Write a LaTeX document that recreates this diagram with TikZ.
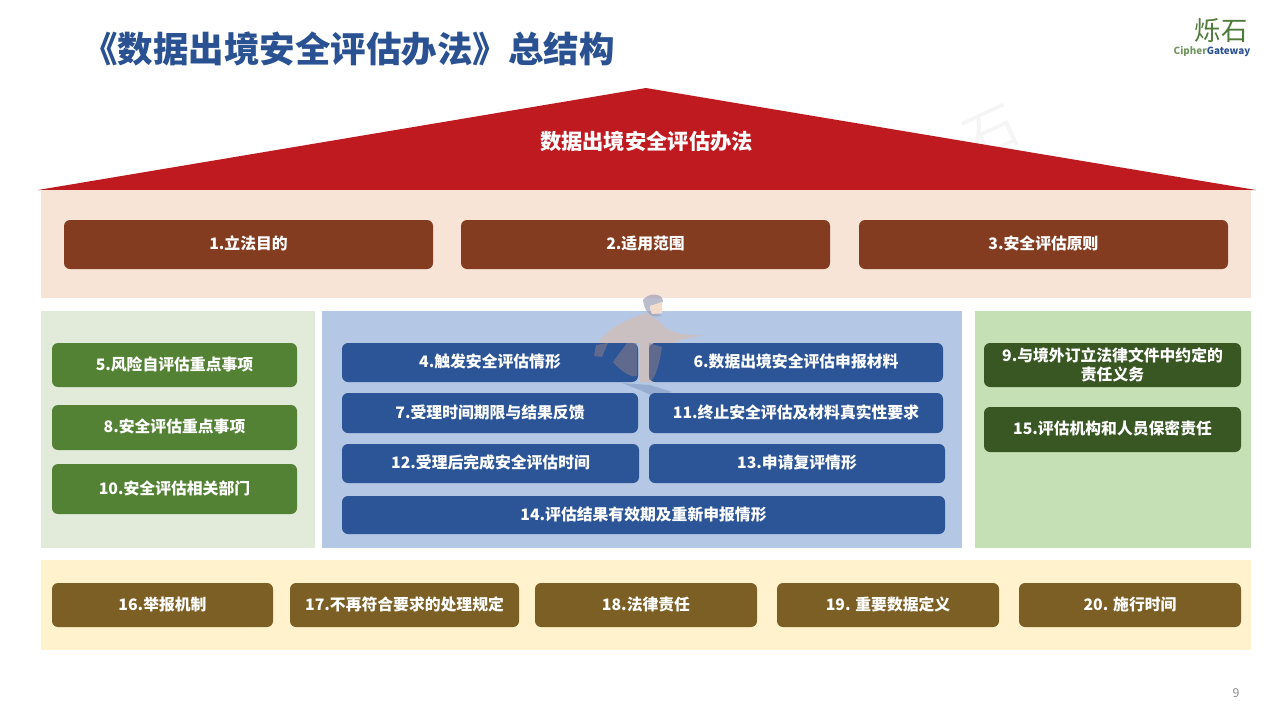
\documentclass[tikz,border=0pt]{standalone}
\usepackage{fontspec}
\setmainfont{Noto Sans CJK SC}
\definecolor{roofred}{HTML}{BE1A20}
\definecolor{titleblue}{HTML}{2A5292}
\definecolor{topband}{HTML}{F8E4D6}
\definecolor{topbox}{HTML}{843C21}
\definecolor{leftband}{HTML}{E2EBDA}
\definecolor{leftbox}{HTML}{548235}
\definecolor{midband}{HTML}{B4C7E4}
\definecolor{midbox}{HTML}{2C5597}
\definecolor{rightband}{HTML}{C5E0B4}
\definecolor{rightbox}{HTML}{385723}
\definecolor{lowband}{HTML}{FFF2CC}
\definecolor{lowbox}{HTML}{7B5F25}
\definecolor{logogreen}{HTML}{4E7A3A}
\definecolor{markpeach}{HTML}{E8B898}
\definecolor{markgrey}{HTML}{8A7C88}
\begin{document}
\begin{tikzpicture}[x=0.02cm, y=-0.02cm]
\tikzstyle{band}=[inner sep=0, outer sep=0]
\tikzstyle{label}=[inner sep=0, text=white, align=center, font=\fontsize{9pt}{10.8pt}\selectfont\bfseries]
\tikzstyle{place}=[label, rounded corners=1.2mm]
\tikzstyle{lift}=[text height=7.5pt, text depth=1.8pt]
\useasboundingbox (0, 0) rectangle (1280, 720);

% Title
\node at (348.5, 49) [inner sep=0, text=titleblue, font=\fontsize{20.2pt}{24pt}\selectfont\bfseries] (title) {《数据出境安全评估办法》总结构};

% Logo
\node at (1221, 31) [inner sep=0, text=logogreen, font=\fontsize{15pt}{18pt}\selectfont] (logo_top) {烁石};
\node at (1212, 51) [inner sep=0, font=\fontsize{5.6pt}{7pt}\selectfont\bfseries] (logo_low) {\textcolor{logogreen!80}{Cipher}\textcolor{titleblue}{Gateway}};

% Faint mark behind the roof
\node at (992, 133) [inner sep=0, rotate=25, text=black!4, font=\fontsize{30pt}{32pt}\selectfont] (mark_text) {石};

% Roof
\fill [roofred] (38, 190) -- (646, 88) -- (1256, 190) -- cycle;
\node at (646.5, 141) [inner sep=0, text=white, font=\fontsize{12.1pt}{14pt}\selectfont\bfseries] (roof) {数据出境安全评估办法};

% Bands
\foreach \n/\x/\y/\w/\h/\c in {top/646/244/1210/108/topband, left/178/429.5/274/237/leftband, mid/642/429.5/640/237/midband, right/1113/429.5/276/237/rightband, low/646/605/1210/90/lowband}
\node at (\x, \y) [band, fill=\c, minimum width=\w*0.02cm, minimum height=\h*0.02cm] (band_\n) {};

% Top row
\foreach \n/\x/\t in {1/248.5/1.立法目的, 2/645.5/2.适用范围, 3/1043.5/3.安全评估原则}
\node at (\x, 244.5) [place, lift, fill=topbox, minimum width=369*0.02cm, minimum height=49*0.02cm] (box_\n) {\t};

% Left column
\foreach \n/\y/\h/\t in {5/365/44/5.风险自评估重点事项, 8/427.5/45/8.安全评估重点事项, 10/489/50/10.安全评估相关部门}
\node at (174.5, \y) [place, lift, fill=leftbox, minimum width=245*0.02cm, minimum height=\h*0.02cm] (box_\n) {\t};

% Watermark figure, under the blue boxes' text
\fill [markpeach, opacity=0.45] (647, 313) -- (660, 322) .. controls (668, 332) and (680, 336) .. (703, 335) -- (680, 340) -- (668, 347) -- (655, 343) -- (655, 382) -- (640, 382) -- (640, 343) -- (612, 343) -- (602, 357) -- (594, 356) -- (600, 340) .. controls (610, 328) and (628, 318) .. (647, 313) -- cycle;
\fill [midbox!70, opacity=0.4] (622, 383) -- (650, 385) -- (672, 392) -- (655, 397) -- (640, 390) -- cycle;
\fill [markgrey, opacity=0.6] (600, 403) -- (612, 400) -- (613, 407) -- (602, 408) -- cycle;

% Middle block
\foreach \n/\x/\y/\w/\h/\t in {4/490/362.5/296/39/4.触发安全评估情形, 6/796/362.5/294/39/6.数据出境安全评估申报材料, 7/490/413/296/40/7.受理时间期限与结果反馈, 11/796/413/294/40/11.终止安全评估及材料真实性要求, 12/490.5/463.5/297/39/12.受理后完成安全评估时间, 13/797/463.5/296/39/13.申请复评情形, 14/643.5/515/603/38/14.评估结果有效期及重新申报情形}
\node at (\x, \y) [place, lift, fill=midbox, minimum width=\w*0.02cm, minimum height=\h*0.02cm] (box_\n) {\t};

% Figure seen through the boxes
\fill [markgrey, opacity=0.55] (627, 343) -- (637, 343) -- (637, 376) .. controls (630, 378) and (620, 370) .. (613, 362) -- cycle;
\fill [markgrey, opacity=0.55] (649, 343) -- (662, 347) .. controls (660, 358) and (658, 372) .. (652, 380) -- (649, 380) -- cycle;
\fill [markgrey, opacity=0.55] (596, 345) -- (608, 343) -- (602, 357) -- (594, 356) -- cycle;

% Head
\fill [markgrey!50!midband, opacity=0.7] (643, 300) .. controls (648, 292) and (664, 293) .. (663, 302) -- (650, 306) -- (651, 313) -- (662, 315) .. controls (655, 319) and (645, 316) .. (643, 300) -- cycle;
\fill [markpeach!50!white] (650, 306) -- (662, 302) -- (662, 313) -- (652, 314) -- cycle;

% Right column
\node at (1112.5, 365) [place, fill=rightbox, minimum width=257*0.02cm, minimum height=44*0.02cm] (box_9) {9.与境外订立法律文件中约定的\\责任义务};
\node at (1112.5, 429.5) [place, lift, fill=rightbox, minimum width=257*0.02cm, minimum height=45*0.02cm] (box_15) {15.评估机构和人员保密责任};

% Bottom row
\foreach \n/\x/\w/\t in {16/162.5/221/16.举报机制, 17/404.5/229/17.不再符合要求的处理规定, 18/646/222/18.法律责任, 19/888/222/19. 重要数据定义, 20/1130/222/20. 施行时间}
\node at (\x, 605) [place, lift, fill=lowbox, minimum width=\w*0.02cm, minimum height=44*0.02cm] (box_\n) {\t};

% Page number
\node at (1236, 693) [inner sep=0, text=black!45, font=\fontsize{7pt}{8pt}\selectfont] (page_no) {9};
\end{tikzpicture}
\end{document}
